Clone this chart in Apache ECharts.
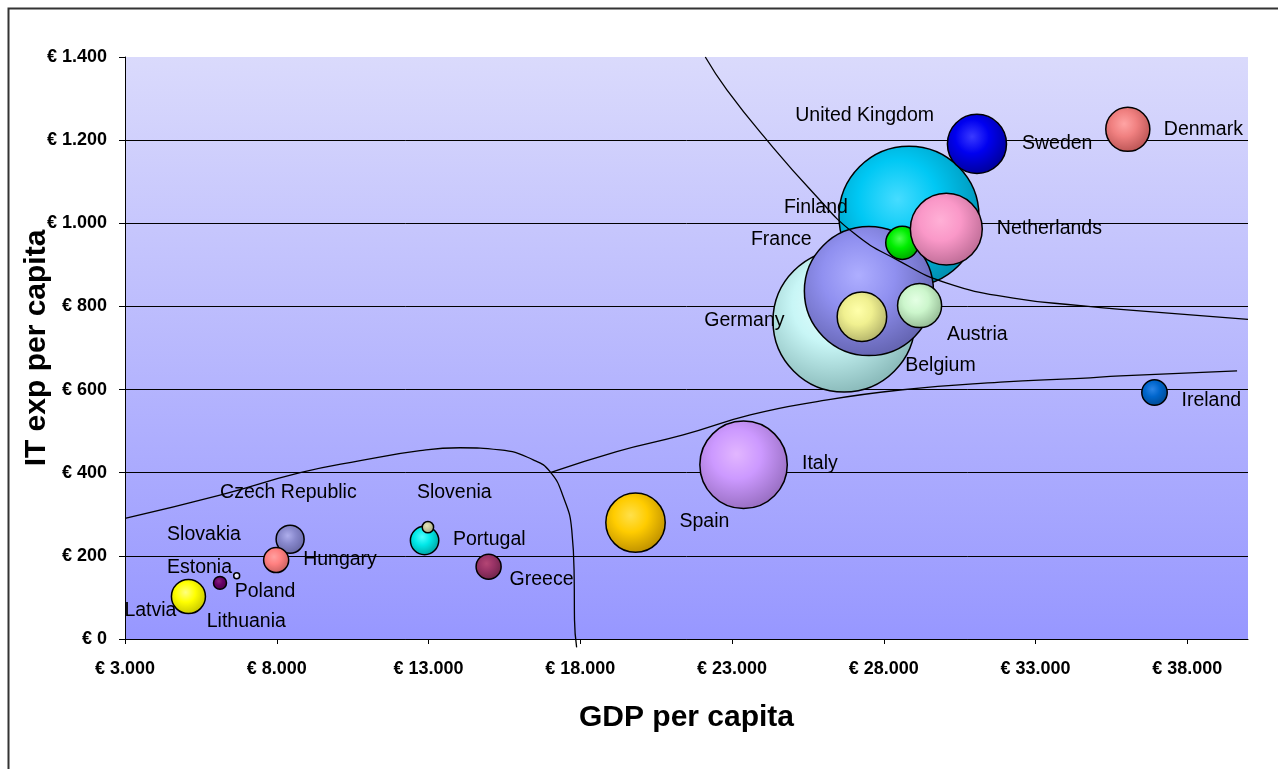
<!DOCTYPE html>
<html>
<head>
<meta charset="utf-8">
<title>IT expenditure vs GDP per capita</title>
<script src="https://cdn.jsdelivr.net/npm/echarts@6/dist/echarts.min.js"></script>
<style>
  html, body { margin: 0; padding: 0; background: #fff; }
  #chart { width: 1278px; height: 769px; }
</style>
</head>
<body>
<div id="chart"></div>
<script>
// Countries, drawn in this order (later bubbles sit on top)
const countries = ['Lithuania', 'Latvia', 'Estonia', 'Poland', 'Slovakia', 'Czech Republic', 'Hungary',
  'Portugal', 'Slovenia', 'Greece', 'Spain', 'Italy', 'Germany', 'United Kingdom', 'France',
  'Finland', 'Netherlands', 'Belgium', 'Austria', 'Sweden', 'Denmark', 'Ireland'];
// GDP per capita (EUR)
const gdpPerCapita = [5100, 5090, 6130, 6680, 8440, 8440, 7980,
  12870, 12980, 14980, 19820, 23380, 26690, 28830, 27510,
  28610, 30060, 27280, 29180, 31070, 36040, 36920];
// IT expenditure per capita (EUR)
const itExpPerCapita = [100, 102, 135, 152, 240, 240, 190,
  237, 269, 174, 280, 419, 765, 1017, 837,
  953, 986, 775, 802, 1191, 1226, 593];
// Bubble weight (area of the bubble)
const bubbleWeight = [3.0, 5.9, 0.86, 0.18, 2.0, 4.0, 3.2,
  4.1, 0.66, 3.2, 18, 39, 103, 100, 85,
  5.6, 26.4, 12.5, 9.9, 17.8, 9.9, 3.3];

// Axis ticks
const xTicks = [3000, 8000, 13000, 18000, 23000, 28000, 33000, 38000];
const yTicks = [0, 200, 400, 600, 800, 1000, 1200, 1400];

// Hand-drawn guide curves (data space: GDP, IT exp)
const curveLowGdp = [[3000, 290], [6130, 346], [8770, 400], [10750, 429], [12720, 453], [14040, 460],
  [15360, 455], [16450, 431], [17010, 402], [17440, 342], [17720, 262], [17800, 142], [17810, 46], [17880, -20]];
const curveRising = [[17010, 400], [19200, 451], [21390, 491], [23600, 539], [25800, 571],
  [28540, 599], [31840, 618], [34480, 627], [35800, 633], [39640, 645]];
const curveFalling = [[22120, 1400], [22830, 1321], [24150, 1200], [25680, 1073], [27000, 977],
  [28440, 912], [30080, 856], [32270, 820], [34480, 802], [35800, 793], [40000, 769]];

// Bubble shading: highlight, body, rim
const bubbleShades = [
  ['#ffff80', '#ffff00', '#c8c800'], ['#ffff80', '#ffff00', '#c8c800'],
  ['#86207e', '#660066', '#4a004a'], ['#f4f4ff', '#dedeff', '#c4c4f0'],
  ['#b0b0e8', '#9090d0', '#6a6aa8'], ['#aeaeec', '#8888cc', '#6868a6'],
  ['#ffa0a0', '#ff8080', '#c86060'], ['#50ffff', '#00e8e8', '#00a6a6'],
  ['#e4e4b8', '#c8c8a0', '#a0a07c'], ['#b44674', '#993366', '#6e244a'],
  ['#ffe04a', '#ffcc00', '#c09200'], ['#e2b6ff', '#cc99ff', '#9a70c4'],
  ['#e8ffff', '#c8f6f6', '#8cbcbc'], ['#46dcff', '#00c8f4', '#0092b4'],
  ['#aeaeff', '#9090f0', '#6666b4'], ['#50ff50', '#00ee00', '#00a800'],
  ['#ffb0d6', '#fa98c8', '#c06e98'], ['#ffffaa', '#f0f090', '#b6b66c'],
  ['#e4ffe4', '#ccf6cc', '#96bc96'], ['#3a3aff', '#0000f0', '#00009e'],
  ['#ffa4a4', '#f08080', '#bc5656'], ['#2a84e6', '#0066cc', '#004a94']
];
// Label placement relative to each bubble centre: [dx, dy]
const labelOffsets = [
  [18, 24.5], [-64, 14.5], [-53, -15.7], [-2, 16.3], [-123, -4.7], [-70, -46.7], [27, -0.7],
  [28.4, -0.7], [-11, -34.6], [21, 12.6], [44, -1], [58.4, -1], [-139.7, 0], [-113.7, -100.7],
  [-118, -51], [-118.4, -35], [50.5, -0.5], [43.3, 49.3], [27.4, 29.3], [45, -0.7], [36, 0], [27, 8]
];

function euro(v) {
  return '€ ' + String(v).replace(/\B(?=(\d{3})+(?!\d))/g, '.');
}

function ball(shades) {
  return new echarts.graphic.RadialGradient(0.42, 0.38, 0.62, [
    { offset: 0, color: shades[0] },
    { offset: 0.45, color: shades[1] },
    { offset: 1, color: shades[2] }
  ]);
}

const bubbleData = countries.map((name, i) => ({
  name: name,
  value: [gdpPerCapita[i], itExpPerCapita[i], bubbleWeight[i]],
  itemStyle: { color: ball(bubbleShades[i]) }
}));

const labelData = countries.map((name, i) => ({
  name: name,
  value: [gdpPerCapita[i], itExpPerCapita[i]],
  label: { offset: labelOffsets[i] }
}));

const FONT = '"Liberation Sans", Arial, sans-serif';

function curveSeries(points) {
  return {
    type: 'line',
    data: points,
    symbol: 'none',
    smooth: 0.5,
    clip: false,
    z: 5,
    silent: true,
    lineStyle: { color: '#000', width: 1.3 }
  };
}

const chart = echarts.init(document.getElementById('chart'), null, { renderer: 'canvas' });
chart.setOption({
  animation: false,
  backgroundColor: '#ffffff',
  textStyle: { fontFamily: FONT },
  graphic: [{
    type: 'rect',
    shape: { x: 8.5, y: 8.5, width: 1400, height: 900 },
    style: { fill: null, stroke: '#333', lineWidth: 2 },
    silent: true
  }],
  grid: {
    left: 125, right: 30, top: 57, bottom: 130,
    outerBoundsMode: 'none',
    containLabel: false,
    show: true, borderWidth: 0,
    backgroundColor: new echarts.graphic.LinearGradient(0, 0, 0, 1, [
      { offset: 0, color: '#dadafc' },
      { offset: 1, color: '#9797ff' }
    ])
  },
  xAxis: {
    type: 'value',
    min: 3000, max: 40000, interval: 5000,
    name: 'GDP per capita',
    nameLocation: 'middle',
    nameGap: 64,
    nameMoveOverlap: false,
    nameTextStyle: { fontSize: 30, fontWeight: 'bold', color: '#000', fontFamily: FONT },
    axisLine: { show: true, onZero: false, lineStyle: { color: '#000', width: 1 } },
    axisTick: { show: true, inside: false, length: 5, customValues: xTicks, lineStyle: { color: '#000' } },
    axisLabel: {
      customValues: xTicks, formatter: euro, margin: 21,
      fontSize: 18, fontWeight: 'bold', color: '#000', fontFamily: FONT
    },
    splitLine: { show: false }
  },
  yAxis: {
    type: 'value',
    min: 0, max: 1400, interval: 200,
    name: 'IT exp per capita',
    nameLocation: 'middle',
    nameRotate: 90,
    nameGap: 73,
    nameMoveOverlap: false,
    nameTextStyle: { fontSize: 30, fontWeight: 'bold', color: '#000', fontFamily: FONT },
    axisLine: { show: true, lineStyle: { color: '#000', width: 1 } },
    axisTick: { show: true, inside: false, length: 6, customValues: yTicks, lineStyle: { color: '#000' } },
    axisLabel: {
      customValues: yTicks, formatter: euro, margin: 18,
      fontSize: 18, fontWeight: 'bold', color: '#000', fontFamily: FONT
    },
    splitLine: { show: true, showMaxLine: false, lineStyle: { color: '#000', width: 1 } }
  },
  series: [
    {
      type: 'scatter',
      name: 'Countries',
      data: bubbleData,
      symbol: 'circle',
      symbolSize: v => 14 * Math.sqrt(v[2]),
      itemStyle: { borderColor: '#000', borderWidth: 1.5, opacity: 1 },
      emphasis: { disabled: true },
      z: 2
    },
    curveSeries(curveLowGdp),
    curveSeries(curveRising),
    curveSeries(curveFalling),
    {
      type: 'scatter',
      name: 'Labels',
      data: labelData,
      symbolSize: 1,
      itemStyle: { color: 'rgba(0,0,0,0)', borderWidth: 0 },
      emphasis: { disabled: true },
      z: 6,
      label: {
        show: true,
        position: 'inside',
        align: 'left',
        verticalAlign: 'middle',
        formatter: p => p.name,
        fontSize: 19.5,
        color: '#000',
        opacity: 1,
        textBorderWidth: 0,
        textShadowBlur: 0,
        fontFamily: FONT
      }
    }
  ]
});
</script>
</body>
</html>
